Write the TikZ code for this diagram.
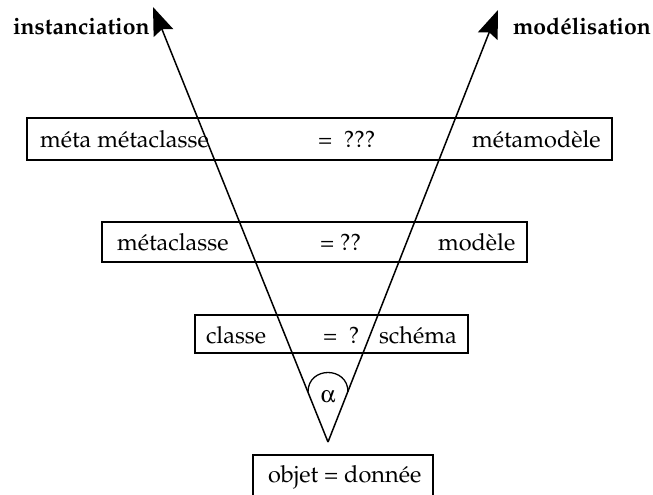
\documentclass[tikz,border=0pt]{standalone}
\usepackage[T1]{fontenc}
\usepackage{mathpazo}
\usepackage[Symbol]{upgreek}
\usetikzlibrary{arrows.meta}

\begin{document}
\begin{tikzpicture}[x=1pt,y=-1pt,
  every node/.style={font=\fontsize{23.5}{28}\selectfont, inner sep=0pt, outer sep=0pt},
  frame/.style={draw, line width=1.4pt},
  txt/.style={anchor=base west},
  heading/.style={anchor=base west, font=\fontsize{23}{27}\selectfont\bfseries},
  axis/.style={line width=1.5pt, -{Stealth[length=28pt,width=21pt,inset=4pt]}},
  angle mark/.style={line width=1.3pt}]
\useasboundingbox (0,0) rectangle (653,495);
\clip (0,0) rectangle (653,495);

% level boxes
\node[frame, minimum width=585pt, minimum height=42pt] (b1) at (319.5,139) {};
\node[frame, minimum width=425pt, minimum height=40pt] (b2) at (314.5,242) {};
\node[frame, minimum width=273pt, minimum height=38pt] (b3) at (331.5,334) {};
\node[frame, minimum width=180pt, minimum height=60pt] (b4) at (343,485) {};

% box texts
\node[txt] (t11) at (40,147) {m\'eta m\'etaclasse};
\node[txt] (t12) at (318,147) {=\ \ ???};
\node[txt] (t13) at (472,147) {m\'etamod\`ele};
\node[txt] (t21) at (117,250) {m\'etaclasse};
\node[txt] (t22) at (320,250) {= ??};
\node[txt] (t23) at (438,250) {mod\`ele};
\node[txt] (t31) at (206,343) {classe};
\node[txt] (t32) at (323,343) {=\ \ ?};
\node[txt] (t33) at (379,343) {sch\'ema};
\node[txt] (t41) at (268,482) {objet = donn\'ee};

% axis labels
\node[heading] (h1) at (13,35) {instanciation};
\node[heading] (h2) at (513,35) {mod\'elisation};

% the V
\coordinate (v) at (328,442);
\coordinate (tl) at (153,7);
\coordinate (tr) at (498,10);
\draw[axis] (v) -- (tl);
\draw[axis] (v) -- (tr);

% angle mark
\coordinate (al) at (308,392);
\coordinate (ar) at (348,392);
\draw[angle mark] (al) .. controls (308,366) and (348,366) .. (ar);
\node (alpha) at (328,397) {$\upalpha$};
\end{tikzpicture}
\end{document}
